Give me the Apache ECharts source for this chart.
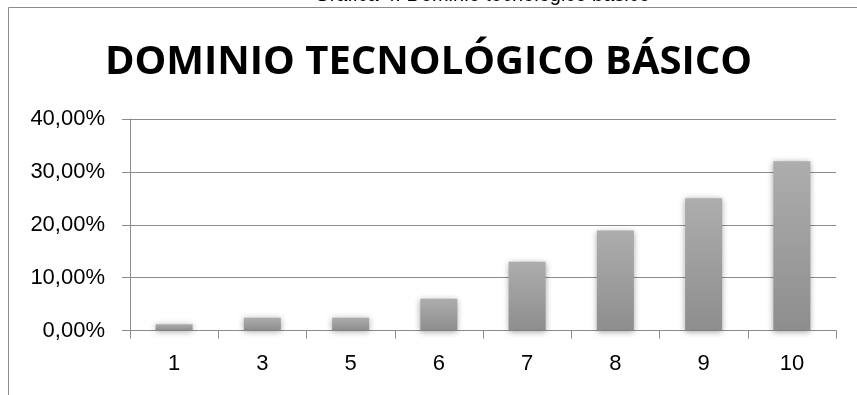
<!DOCTYPE html>
<html>
<head>
<meta charset="utf-8">
<script src="https://cdn.jsdelivr.net/npm/echarts@6/dist/echarts.min.js"></script>
<style>
html,body{margin:0;padding:0;background:#fff;}
#chart{width:857px;height:395px;}
</style>
</head>
<body>
<div id="chart"></div>
<script>
const categories = ['1', '3', '5', '6', '7', '8', '9', '10'];
const values = [1.2, 2.4, 2.4, 6.0, 13.0, 18.9, 25.0, 32.0];
const titleText = 'DOMINIO TECNOLÓGICO BÁSICO';
const captionText = 'Gráfica 4. Dominio tecnológico básico';

const chart = echarts.init(document.getElementById('chart'), null, {renderer: 'canvas'});
chart.setOption({
  backgroundColor: '#ffffff',
  animation: false,
  title: {
    text: titleText,
    left: 'center',
    top: 38,
    textStyle: {fontFamily: 'Open Sans', fontWeight: 'bold', fontSize: 40, color: '#000'}
  },
  graphic: [
    {type: 'rect', shape: {x: 8.5, y: 7.5, width: 1000, height: 1000}, style: {fill: 'none', stroke: '#8c8c8c', lineWidth: 1}, z: -1},
    {type: 'text', x: 482, y: 5.5, style: {text: captionText, fontFamily: 'Liberation Sans', fontSize: 20, fill: '#000', align: 'center', verticalAlign: 'bottom'}}
  ],
  grid: {left: 130, right: 21, top: 119, bottom: 64.5},
  xAxis: {
    type: 'category',
    data: categories,
    axisLine: {lineStyle: {color: '#8c8c8c', width: 1}},
    axisTick: {show: true, length: 8, lineStyle: {color: '#8c8c8c'}},
    axisLabel: {color: '#000', fontFamily: 'Liberation Sans', fontSize: 22, margin: 22}
  },
  yAxis: {
    type: 'value',
    min: 0, max: 40, interval: 10,
    axisLine: {show: true, lineStyle: {color: '#8c8c8c', width: 1}},
    axisTick: {show: true, length: 8, lineStyle: {color: '#8c8c8c'}},
    splitLine: {lineStyle: {color: '#8c8c8c', width: 1}},
    axisLabel: {
      color: '#000', fontFamily: 'Liberation Sans', fontSize: 22, margin: 25,
      formatter: v => v.toFixed(2).replace('.', ',') + '%'
    }
  },
  series: [{
    type: 'bar',
    data: values,
    barWidth: 37,
    itemStyle: {
      color: new echarts.graphic.LinearGradient(0, 0, 0, 1, [
        {offset: 0, color: '#adadad'},
        {offset: 1, color: '#8e8e8e'}
      ]),
      shadowBlur: 6,
      shadowColor: 'rgba(0,0,0,0.35)',
      shadowOffsetY: 1
    }
  }]
});
</script>
</body>
</html>
